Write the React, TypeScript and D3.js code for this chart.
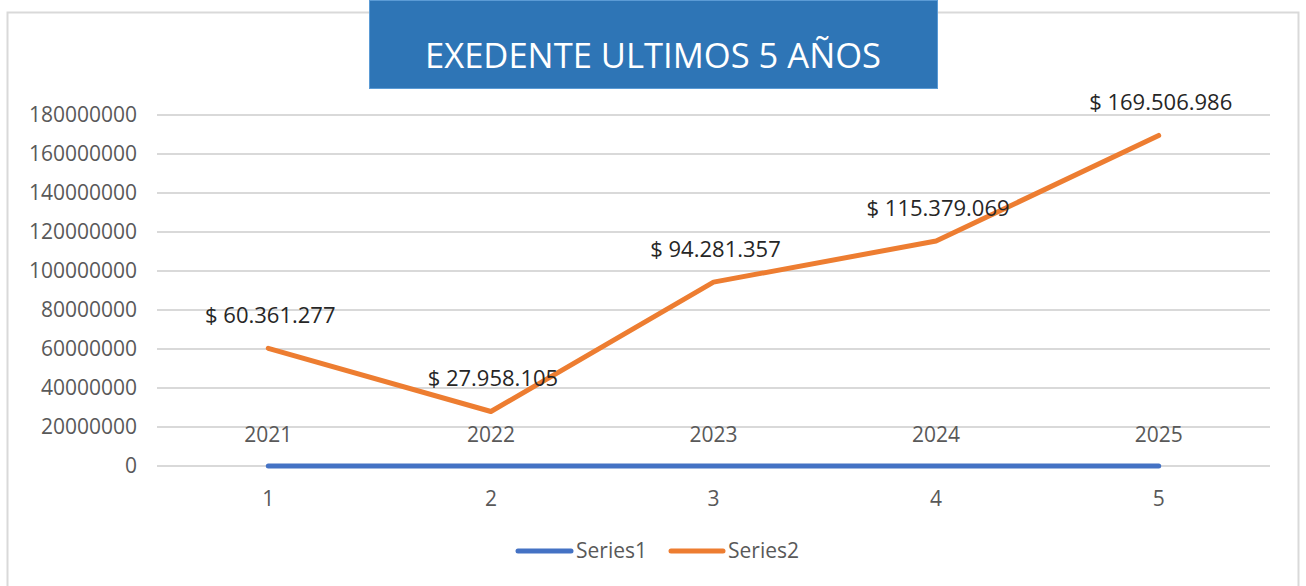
import React from 'react';
import * as d3 from 'd3';

const categories = ['1', '2', '3', '4', '5'];
const series1 = [2021, 2022, 2023, 2024, 2025];
const series2 = [60361277, 27958105, 94281357, 115379069, 169506986];
const yTicks = [0, 20000000, 40000000, 60000000, 80000000, 100000000, 120000000, 140000000, 160000000, 180000000];
const seriesNames = ['Series1', 'Series2'];
const title = 'EXEDENTE ULTIMOS 5 AÑOS';

const W = 1306;
const H = 586;
const plot = { left: 157, right: 1270, top: 115, bottom: 466 };
const BLUE = '#4472C4';
const ORANGE = '#ED7D31';
const FONT = '"Open Sans", "Liberation Sans", sans-serif';

// Excel-style money label: $ 60.361.277
const money = (v: number) => '$ ' + d3.format(',')(v).replace(/,/g, '.');

export default function App(): JSX.Element {
  const x = d3.scaleBand<string>().domain(categories).range([plot.left, plot.right]);
  const cx = (i: number) => (x(categories[i]) ?? 0) + x.bandwidth() / 2;
  const y = d3.scaleLinear().domain([0, 180000000]).range([plot.bottom, plot.top]);

  const line = d3.line<number>().x((_, i) => cx(i)).y((d) => y(d));

  return (
    <div style={{ position: 'absolute', left: 0, top: 0 }}>
      <svg width={W} height={H} style={{ display: 'block', background: '#fff' }}>
        {/* chart frame */}
        <rect x={7.5} y={12.5} width={1291} height={H} fill="#fff" stroke="#d9d9d9" strokeWidth={2} />

        {/* title box */}
        <rect x={369.5} y={0.5} width={568} height={88} fill="#2E75B6" stroke="#5b9bd5" strokeWidth={1} />
        <text x={653} y={68} textAnchor="middle" fill="#fff" fontFamily={FONT} fontSize={35} fontWeight={500}
          textLength={456} lengthAdjust="spacingAndGlyphs">{title}</text>

        {/* gridlines + y labels */}
        {yTicks.map((t) => (
          <g key={t}>
            <line x1={plot.left} x2={plot.right} y1={y(t)} y2={y(t)} stroke="#d9d9d9" strokeWidth={2} />
            <text x={137} y={y(t)} dy="0.35em" textAnchor="end" fill="#595959" fontFamily={FONT} fontSize={21}>{t}</text>
          </g>
        ))}

        {/* x labels */}
        {categories.map((c, i) => (
          <text key={c} x={cx(i)} y={506} textAnchor="middle" fill="#595959" fontFamily={FONT} fontSize={21}>{c}</text>
        ))}

        {/* series lines */}
        <path d={line(series1) ?? ''} fill="none" stroke={BLUE} strokeWidth={5} strokeLinecap="round" strokeLinejoin="round" />
        <path d={line(series2) ?? ''} fill="none" stroke={ORANGE} strokeWidth={5} strokeLinecap="round" strokeLinejoin="round" />

        {/* data labels */}
        {series1.map((v, i) => (
          <text key={'s1' + i} x={cx(i)} y={y(v) - 24} textAnchor="middle" fill="#595959" fontFamily={FONT} fontSize={21}>{v}</text>
        ))}
        {series2.map((v, i) => (
          <text key={'s2' + i} x={cx(i) + 2} y={y(v) - 25} textAnchor="middle" fill="#262626" fontFamily={FONT} fontSize={22}>{money(v)}</text>
        ))}

        {/* legend */}
        <g>
          <line x1={518} x2={571} y1={551} y2={551} stroke={BLUE} strokeWidth={5} strokeLinecap="round" />
          <text x={576} y={558} fill="#595959" fontFamily={FONT} fontSize={21}>{seriesNames[0]}</text>
          <line x1={671} x2={723} y1={551} y2={551} stroke={ORANGE} strokeWidth={5} strokeLinecap="round" />
          <text x={728} y={558} fill="#595959" fontFamily={FONT} fontSize={21}>{seriesNames[1]}</text>
        </g>
      </svg>
    </div>
  );
}
